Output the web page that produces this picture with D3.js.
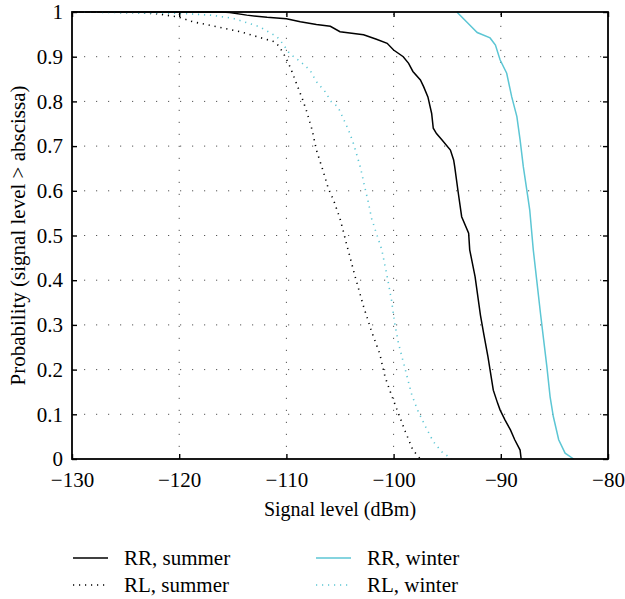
<!DOCTYPE html>
<html>
<head>
<meta charset="utf-8">
<script src="https://cdn.jsdelivr.net/npm/d3@7"></script>
<style>
  body { margin: 0; background: #fff; }
  svg { display: block; font-family: "Liberation Serif", "DejaVu Serif", serif; }
</style>
</head>
<body>
<svg id="chart" width="625" height="599"></svg>
<script>
// signal level (dBm) vs probability (signal level > abscissa)
var rrSummer = [[-130,1],[-116,1],[-115.3,0.999],[-113.7,0.993],[-111.8,0.988],[-110,0.985],[-108.7,0.978],
  [-107.2,0.972],[-105.9,0.968],[-105,0.956],[-102.8,0.949],[-101.6,0.939],[-100.6,0.93],[-100,0.915],
  [-99.1,0.9],[-98.6,0.885],[-98.2,0.867],[-97.5,0.848],[-97.2,0.833],[-96.8,0.81],[-96.45,0.773],
  [-96.3,0.74],[-96,0.728],[-95.5,0.714],[-94.7,0.691],[-94.4,0.669],[-94.3,0.654],[-93.96,0.594],
  [-93.65,0.542],[-93.0,0.505],[-92.9,0.468],[-92.4,0.408],[-91.9,0.322],[-91.6,0.281],[-91.2,0.229],
  [-90.7,0.154],[-90.3,0.125],[-90.07,0.11],[-89.6,0.087],[-89.1,0.065],[-88.7,0.043],[-88.2,0.02],[-88.1,0]];

var rlSummer = [[-130,1],[-124,0.999],[-122.1,0.996],[-120.1,0.989],[-118.7,0.978],[-116.5,0.967],
  [-114.3,0.956],[-112.2,0.941],[-111.2,0.934],[-110.7,0.924],[-110.1,0.9],[-109.6,0.874],[-108.95,0.833],
  [-108.5,0.805],[-108.1,0.777],[-107.6,0.736],[-107.2,0.691],[-106.65,0.65],[-106.1,0.606],[-105.6,0.579],
  [-105.0,0.538],[-104.4,0.482],[-103.6,0.409],[-102.8,0.341],[-102.05,0.285],[-101.3,0.236],[-100.8,0.184],
  [-100.2,0.143],[-99.55,0.102],[-98.9,0.061],[-98.2,0.02],[-97.5,0]];

var rrWinter = [[-94.1,1],[-92.9,0.971],[-92.2,0.954],[-91.0,0.942],[-90.5,0.926],[-90.07,0.893],
  [-89.45,0.863],[-88.98,0.81],[-88.5,0.766],[-88.2,0.714],[-87.9,0.654],[-87.5,0.59],[-87.3,0.557],
  [-86.97,0.468],[-86.65,0.4],[-86.3,0.326],[-86.0,0.266],[-85.7,0.206],[-85.4,0.139],[-85.1,0.095],
  [-84.6,0.043],[-84.0,0.013],[-83.2,0]];

var rlWinter = [[-130,1],[-120,0.997],[-117.1,0.993],[-115,0.986],[-112.5,0.967],[-110.9,0.945],
  [-110.4,0.931],[-109.7,0.907],[-108.7,0.889],[-107.8,0.87],[-107.2,0.844],[-106.4,0.822],[-105.8,0.799],
  [-105.2,0.788],[-104.7,0.762],[-104.2,0.736],[-103.75,0.706],[-103.4,0.678],[-103.07,0.65],[-102.7,0.609],
  [-102.4,0.579],[-102.05,0.538],[-101.7,0.512],[-101.1,0.468],[-100.6,0.408],[-100.2,0.356],[-99.9,0.304],
  [-99.55,0.259],[-98.9,0.199],[-98.3,0.143],[-97.7,0.106],[-97.1,0.076],[-96.3,0.039],[-95.5,0.016],[-94.6,0]];

var xTicks = [-130, -120, -110, -100, -90, -80];
var yTicks = [0, 0.1, 0.2, 0.3, 0.4, 0.5, 0.6, 0.7, 0.8, 0.9, 1];
var yTickLabels = ["0", "0.1", "0.2", "0.3", "0.4", "0.5", "0.6", "0.7", "0.8", "0.9", "1"];

var series = [
  {name: "RR, summer", data: rrSummer, color: "#000", dash: null},
  {name: "RL, summer", data: rlSummer, color: "#000", dash: "1.2,4.8"},
  {name: "RR, winter", data: rrWinter, color: "#5cc6d4", dash: null},
  {name: "RL, winter", data: rlWinter, color: "#5cc6d4", dash: "1.2,4.8"}
];

var svg = d3.select("#chart"),
    plotL = 72, plotR = 608, plotT = 12, plotB = 459;

var x = d3.scaleLinear().domain([-130, -80]).range([plotL, plotR]),
    y = d3.scaleLinear().domain([0, 1]).range([plotB, plotT]);

// dotted grid
var grid = svg.append("g").attr("stroke", "#555").attr("stroke-width", 1).attr("stroke-dasharray", "1.2,10.8");
grid.selectAll(".gx").data(xTicks.slice(1, -1)).enter().append("line")
    .attr("x1", d => x(d)).attr("x2", d => x(d)).attr("y1", plotB).attr("y2", plotT);
grid.selectAll(".gy").data(yTicks.slice(1, -1)).enter().append("line")
    .attr("y1", d => y(d)).attr("y2", d => y(d)).attr("x1", plotL).attr("x2", plotR);

svg.append("clipPath").attr("id", "clip")
  .append("rect").attr("x", plotL).attr("y", plotT - 1).attr("width", plotR - plotL).attr("height", plotB - plotT + 2);

var line = d3.line().x(d => x(d[0])).y(d => y(d[1]));

svg.append("g").attr("clip-path", "url(#clip)")
  .selectAll("path").data(series).enter().append("path")
    .attr("d", d => line(d.data))
    .attr("fill", "none")
    .attr("stroke", d => d.color)
    .attr("stroke-width", d => d.dash ? 1.6 : 1.5)
    .attr("stroke-dasharray", d => d.dash);

// axes with inward ticks on all four sides
function styleAxis(g) {
  g.select(".domain").remove();
  g.selectAll(".tick line").attr("stroke", "#000").attr("stroke-width", 1.4);
  g.selectAll(".tick text").attr("font-size", 21).attr("fill", "#000")
    .attr("font-family", "Liberation Serif, DejaVu Serif, serif");
}

svg.append("g").attr("transform", "translate(0," + plotB + ")")
  .call(d3.axisBottom(x).tickValues(xTicks).tickSize(-5).tickPadding(13).tickSizeOuter(0))
  .call(styleAxis);
svg.append("g").attr("transform", "translate(0," + plotT + ")")
  .call(d3.axisTop(x).tickValues(xTicks).tickSize(-5).tickFormat("").tickSizeOuter(0))
  .call(styleAxis);
svg.append("g").attr("transform", "translate(" + plotL + ",0)")
  .call(d3.axisLeft(y).tickValues(yTicks).tickSize(-5).tickPadding(9).tickSizeOuter(0)
    .tickFormat((d, i) => yTickLabels[i]))
  .call(styleAxis);
svg.append("g").attr("transform", "translate(" + plotR + ",0)")
  .call(d3.axisRight(y).tickValues(yTicks).tickSize(-5).tickFormat("").tickSizeOuter(0))
  .call(styleAxis);

svg.append("rect")
    .attr("x", plotL).attr("y", plotT).attr("width", plotR - plotL).attr("height", plotB - plotT)
    .attr("fill", "none").attr("stroke", "#000").attr("stroke-width", 1.8);

// axis titles
svg.append("text")
    .attr("x", (plotL + plotR) / 2).attr("y", 516)
    .attr("text-anchor", "middle").attr("font-size", 20)
    .text("Signal level (dBm)");

svg.append("text")
    .attr("transform", "translate(25," + (plotT + plotB) / 2 + ") rotate(-90)")
    .attr("text-anchor", "middle").attr("font-size", 21)
    .text("Probability (signal level > abscissa)");

// legend, two columns
var legend = svg.append("g").selectAll("g").data(series).enter().append("g")
    .attr("transform", (d, i) => "translate(" + (i < 2 ? 73 : 316) + "," + (i % 2 ? 585 : 558) + ")");
legend.append("line")
    .attr("x1", 0).attr("x2", 35).attr("y1", 0).attr("y2", 0)
    .attr("stroke", d => d.color).attr("stroke-width", 1.5)
    .attr("stroke-dasharray", d => d.dash);
legend.append("text")
    .attr("x", 51).attr("y", 0).attr("dy", "0.32em")
    .attr("font-size", 21)
    .text(d => d.name);
</script>
</body>
</html>
